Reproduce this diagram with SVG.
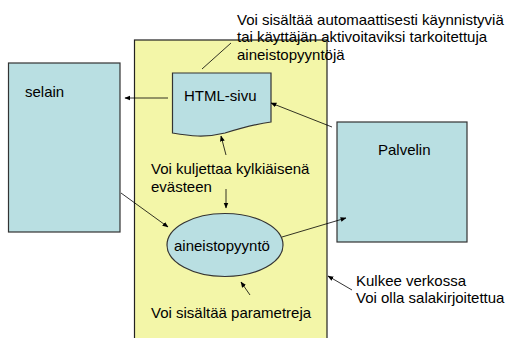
<svg xmlns="http://www.w3.org/2000/svg" width="513" height="338" viewBox="0 0 513 338">
<defs>
<style>
.box{fill:#b9dfe2;stroke:#333;stroke-width:1.2}
.t{font-family:"Liberation Sans",Arial,sans-serif;font-size:15px;fill:#000}
.c{stroke:#000;stroke-width:0.8;fill:none}
.a{marker-end:url(#ah)}
</style>
<marker id="ah" viewBox="0 0 10 10" refX="9" refY="5" markerWidth="6" markerHeight="6" markerUnits="userSpaceOnUse" orient="auto">
<path d="M0,1 L10,5 L0,9 z" fill="#000"/>
</marker>
</defs>
<rect x="0" y="0" width="513" height="338" fill="#fff"/>
<g id="network">
<rect x="134.5" y="40" width="192.5" height="310" fill="#f3f6a8" stroke="#222" stroke-width="1.2"/>
</g>
<g id="selain">
<rect class="box" x="8.5" y="63" width="111.5" height="169"/>
<text class="t" x="25" y="97">selain</text>
</g>
<g id="palvelin">
<rect class="box" x="337" y="122" width="130" height="120"/>
<text class="t" x="378" y="155">Palvelin</text>
</g>
<g id="html">
<path class="box" d="M172.5,73 L271,73 L271,122 C255,124 245,127 225,133 C205,138 190,136 172.5,133 Z"/>
<text class="t" x="184" y="101">HTML-sivu</text>
</g>
<g id="pyynto">
<ellipse class="box" cx="225" cy="245" rx="58" ry="31.5"/>
<text class="t" x="174" y="251">aineistopyyntö</text>
</g>
<g id="notes">
<text class="t" x="237" y="25">Voi sisältää automaattisesti käynnistyviä</text>
<text class="t" x="237" y="42">tai käyttäjän aktivoitaviksi tarkoitettuja</text>
<text class="t" x="237" y="60">aineistopyyntöjä</text>
<text class="t" x="151" y="174">Voi kuljettaa kylkiäisenä</text>
<text class="t" x="151" y="192">evästeen</text>
<text class="t" x="151" y="318">Voi sisältää parametreja</text>
<text class="t" x="356" y="286">Kulkee verkossa</text>
<text class="t" x="356" y="303">Voi olla salakirjoitettua</text>
</g>
<g id="connectors">
<line class="c" x1="202" y1="69" x2="231" y2="43"/>
<line class="c a" x1="168" y1="98" x2="125" y2="98"/>
<line class="c a" x1="332" y1="127" x2="271" y2="103"/>
<line class="c a" x1="226" y1="155" x2="221" y2="136"/>
<line class="c a" x1="226" y1="189" x2="226" y2="208"/>
<line class="c a" x1="121" y1="193" x2="168" y2="227"/>
<line class="c a" x1="282" y1="237" x2="346" y2="218"/>
<line class="c a" x1="250" y1="295" x2="241" y2="282"/>
<line class="c a" x1="352" y1="290" x2="328" y2="276"/>
</g>
</svg>
